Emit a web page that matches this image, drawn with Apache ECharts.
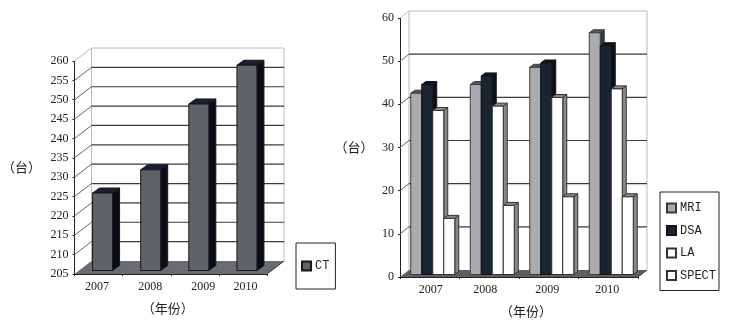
<!DOCTYPE html>
<html><head><meta charset="utf-8">
<style>html,body{margin:0;padding:0;background:#fff}#c{width:734px;height:323px}</style>
<script src="https://cdn.jsdelivr.net/npm/echarts@6/dist/echarts.min.js"></script>
</head><body><div id="c"></div>
<script>
const years = ['2007','2008','2009','2010'];
const ctValues = [225, 231, 248, 258];
const mriValues = [42, 44, 48, 56];
const dsaValues = [44, 46, 49, 53];
const laValues = [38, 39, 41, 43];
const spectValues = [13, 16, 18, 18];
const leftTicks = [205,210,215,220,225,230,235,240,245,250,255,260];
const rightTicks = [0,10,20,30,40,50,60];

const FONT = '"Liberation Serif", serif';
const CJK = '"Noto Sans CJK SC", sans-serif';
const TEXT = '#222';

function wall(idx, ticks, dx, dy, floorColor) {
  const lo = ticks[0], hi = ticks[ticks.length - 1];
  return {
    type: 'custom', xAxisIndex: idx, yAxisIndex: idx, z: 1, silent: true, legendHoverLink: false,
    data: ticks.map(t => [years[0], t]),
    renderItem(params, api) {
      const t = api.value(1);
      const r = params.coordSys;
      const x0 = r.x, x1 = r.x + r.width;
      const y = api.coord([api.value(0), t])[1];
      const kids = [];
      const line = (a, b, c, d, color, w) => kids.push({type:'line', shape:{x1:a,y1:b,x2:c,y2:d}, style:{stroke:color, lineWidth:w||1, fill:null}});
      if (t === lo) {
        kids.push({type:'polygon', shape:{points:[[x0,y],[x1,y],[x1+dx,y-dy],[x0+dx,y-dy]]}, style:{fill:floorColor}});
        line(x1, y, x1+dx, y-dy, '#333');
        line(x0+dx, y-dy, x0+dx, r.y-dy, '#b9bcc4');
        line(x1+dx, y-dy, x1+dx, r.y-dy, '#b9bcc4');
      } else if (t === hi) {
        line(x0, y, x0+dx, y-dy, '#b9bcc4');
        line(x0+dx, y-dy, x1+dx, y-dy, '#b9bcc4');
      } else {
        line(x0, y, x0+dx, y-dy, '#666');
        line(x0+dx, y-dy, x1+dx, y-dy, '#3a3a3a', 1.2);
      }
      return {type:'group', children:kids};
    }
  };
}

function bars(idx, name, values, offset, barW, sx, sy, ddx, ddy, lo, c) {
  return {
    type: 'custom', name, xAxisIndex: idx, yAxisIndex: idx, z: 3,
    itemStyle: {color: c.front, borderColor: c.line, borderWidth: 1},
    encode: {x: 0, y: 1},
    data: values.map((v, i) => [years[i], v]),
    renderItem(params, api) {
      const cat = api.value(0);
      const top = api.coord([cat, api.value(1)]);
      const base = api.coord([cat, lo]);
      const l = top[0] + offset + sx, r = l + barW;
      const t = top[1] - sy, b = base[1] - sy;
      const st = (fill) => ({fill, stroke: c.line, lineWidth: 1});
      return {type:'group', children:[
        {type:'polygon', shape:{points:[[r,t],[r+ddx,t-ddy],[r+ddx,b-ddy],[r,b]]}, style:st(c.side)},
        {type:'polygon', shape:{points:[[l,t],[l+ddx,t-ddy],[r+ddx,t-ddy],[r,t]]}, style:st(c.cap)},
        {type:'rect', shape:{x:l,y:t,width:barW,height:b-t}, style:st(c.front)}
      ]};
    }
  };
}

const labelPads = [
  [[0,3,0,0],[0,0,0,7],[0,0,0,17],[0,0,0,5]],
  [[0,0,0,2],[0,8,0,0],[0,3,0,0],[0,2,0,0]]
];
function xAxis(idx, name, pad) {
  return {
    type:'category', gridIndex:idx, data:years.map((y,i)=>({value:y,textStyle:{padding:labelPads[idx][i]}})),
    name, nameLocation:'middle', nameGap:28,
    nameTextStyle:{fontFamily:CJK,fontSize:13,color:TEXT,padding:pad},
    axisLine:{onZero:false,lineStyle:{color:'#222',width:1}},
    axisTick:{show:true,length:2,lineStyle:{color:'#222'}},
    axisLabel:{fontFamily:FONT,fontSize:12,color:TEXT,margin:7,interval:0},
    splitLine:{show:false}
  };
}
function yAxis(idx, lo, hi, step, gap) {
  return {
    type:'value', gridIndex:idx, min:lo, max:hi, interval:step,
    name:'（台）', nameLocation:'middle', nameRotate:0, nameGap:gap,
    nameTextStyle:{fontFamily:CJK,fontSize:13,color:TEXT},
    axisLine:{show:true,lineStyle:{color:'#222',width:1}},
    axisTick:{show:true,length:2,lineStyle:{color:'#222'}},
    axisLabel:{fontFamily:FONT,fontSize:12,color:TEXT,margin:6},
    splitLine:{show:false}
  };
}
function legend(idx, names, box, gap) {
  return Object.assign({
    orient:'vertical', data:names, backgroundColor:'#fff', borderColor:'#222', borderWidth:1,
    itemWidth:9, itemHeight:9, itemGap:gap, icon:'rect', selectedMode:false,
    textStyle:{fontFamily:'"Liberation Mono", monospace',fontSize:12,color:TEXT,padding:[0,0,0,-1]}
  }, box);
}

const white = {front:'#ffffff', cap:'#8a8a8a', side:'#85888c', line:'#333'};
const chart = echarts.init(document.getElementById('c'), null, {renderer:'canvas'});
chart.setOption({
  animation:false, backgroundColor:'#fff',
  grid:[
    {left:71, width:196, top:61, height:213},
    {left:400, width:238, top:18, height:262}
  ],
  xAxis:[xAxis(0,'（年份）',[0,6,0,0]), xAxis(1,'（年份）',[0,0,0,14])],
  yAxis:[yAxis(0,205,260,5,33.5), yAxis(1,0,60,10,26.5)],
  legend:[
    legend(0,['CT'],{left:296,top:243,padding:[17,6,17,5]},0),
    legend(1,['MRI','DSA','LA','SPECT'],{left:660,top:192,padding:[10,3,9,6]},10.5)
  ],
  series:[
    wall(0,leftTicks,17,13,'#6a6c70'),
    wall(1,rightTicks,9,7,'#5c5e62'),
    bars(0,'CT',ctValues,-10,20,4,3.5,7,5,205,{front:'#5f6367',cap:'#1b2030',side:'#0b0d14',line:'#15171f'}),
    bars(1,'MRI',mriValues,-22,11,3,2.5,4,3,0,{front:'#a9abaf',cap:'#55585c',side:'#33363a',line:'#3a3c40'}),
    bars(1,'DSA',dsaValues,-11,11,3,2.5,4,3,0,{front:'#1b2530',cap:'#10151e',side:'#0b0f16',line:'#10141c'}),
    bars(1,'LA',laValues,0,11,3,2.5,4,3,0,white),
    bars(1,'SPECT',spectValues,11,11,3,2.5,4,3,0,white)
  ]
});
</script></body></html>
